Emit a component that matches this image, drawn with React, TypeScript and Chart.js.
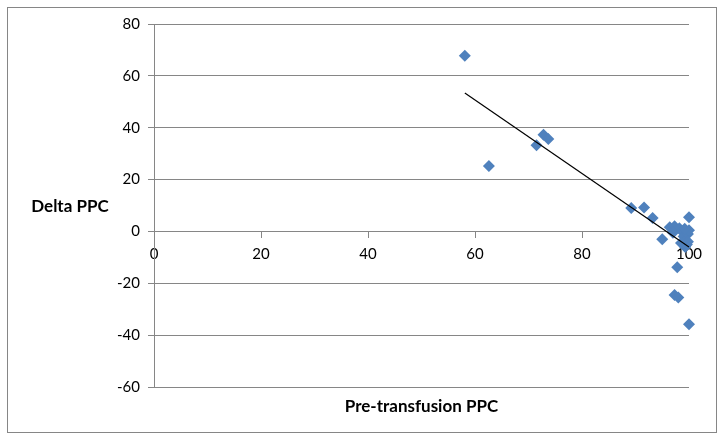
import React, { useEffect, useRef } from "react";
import { Chart, registerables } from "chart.js";

Chart.register(...registerables);

const preTransfusionPPC: number[] = [
  58.1, 62.6, 71.5, 72.8, 73.7, 89.2, 91.6, 93.2, 95.0, 96.4, 97.3, 98.2, 97.0,
  98.7, 99.0, 99.5, 99.8, 100, 99.6, 99.3, 100, 99.8, 97.8, 97.3, 98.0, 100,
  98.5, 99.2,
];
const deltaPPC: number[] = [
  67.8, 25.2, 33.2, 37.3, 35.6, 9.0, 9.2, 5.2, -3.0, 1.6, 2.0, 1.2, -0.5, 0.0,
  -2.0, -3.5, -1.0, 0.5, -5.0, -6.0, 5.5, -4.0, -13.8, -24.5, -25.5, -35.8,
  -4.5, 1.0,
];
const trendX: number[] = [58.1, 100];
const trendY: number[] = [53.4, -6.0];

const xTitle = "Pre-transfusion PPC";
const yTitle = "Delta PPC";
const xMin = 0, xMax = 100, xStep = 20;
const yMin = -60, yMax = 80, yStep = 20;

const FONT = "Lato, 'Open Sans', sans-serif";
const GRID = "#868686";

export default function App() {
  const ref = useRef<HTMLCanvasElement | null>(null);

  useEffect(() => {
    if (!ref.current) return;
    const titles = {
      id: "customTitles",
      beforeDraw(chart: any) {
        const ctx = chart.ctx;
        ctx.save();
        ctx.strokeStyle = GRID;
        ctx.lineWidth = 1;
        ctx.strokeRect(7.5, 7.5, 709, 425);
        ctx.restore();
      },
      afterDraw(chart: any) {
        const ctx = chart.ctx;
        const a = chart.chartArea;
        ctx.save();
        ctx.fillStyle = "#000";
        ctx.font = `bold 17px ${FONT}`;
        ctx.textAlign = "center";
        ctx.textBaseline = "middle";
        ctx.fillText(xTitle, (a.left + a.right) / 2, a.bottom + 20);
        ctx.fillText(yTitle, 70, 207);
        ctx.restore();
      },
    };

    const chart = new Chart(ref.current, {
      type: "scatter",
      data: {
        datasets: [
          {
            type: "line",
            data: trendX.map((x, i) => ({ x, y: trendY[i] })),
            borderColor: "#000",
            borderWidth: 1.2,
            pointRadius: 0,
            fill: false,
            clip: false,
            order: 0,
          } as any,
          {
            data: preTransfusionPPC.map((x, i) => ({ x, y: deltaPPC[i] })),
            pointStyle: "rectRot",
            pointRadius: 6,
            backgroundColor: "#4F81BD",
            borderColor: "#4F81BD",
            borderWidth: 0,
            clip: false,
            order: 1,
          } as any,
        ],
      },
      options: {
        responsive: false,
        animation: false,
        layout: { padding: { left: 114, right: 36, top: 24, bottom: 52 } },
        plugins: {
          legend: { display: false },
          tooltip: { enabled: false },
          title: { display: false },
        },
        scales: {
          x: {
            type: "linear",
            position: { y: 0 } as any,
            min: xMin,
            max: xMax,
            ticks: {
              stepSize: xStep,
              color: "#000",
              font: { family: FONT, size: 15 },
              padding: 8,
              maxRotation: 0,
            },
            grid: {
              drawOnChartArea: false,
              drawTicks: true,
              tickLength: 6,
              color: GRID,
            },
            border: { color: GRID, width: 1 },
            afterFit(scale: any) {
              scale.height = 0;
            },
          },
          y: {
            type: "linear",
            position: "left",
            min: yMin,
            max: yMax,
            ticks: {
              stepSize: yStep,
              color: "#000",
              font: { family: FONT, size: 15 },
              padding: 8,
            },
            grid: {
              color: GRID,
              tickLength: 6,
              drawTicks: true,
            },
            border: { color: GRID, width: 1 },
            afterFit(scale: any) {
              scale.width = 40;
            },
          },
        },
      },
      plugins: [titles],
    });
    return () => chart.destroy();
  }, []);

  return (
    <div style={{ position: "fixed", left: 0, top: 0, width: 725, height: 439, background: "#fff" }}>
      <canvas ref={ref} width={725} height={439} />
    </div>
  );
}
